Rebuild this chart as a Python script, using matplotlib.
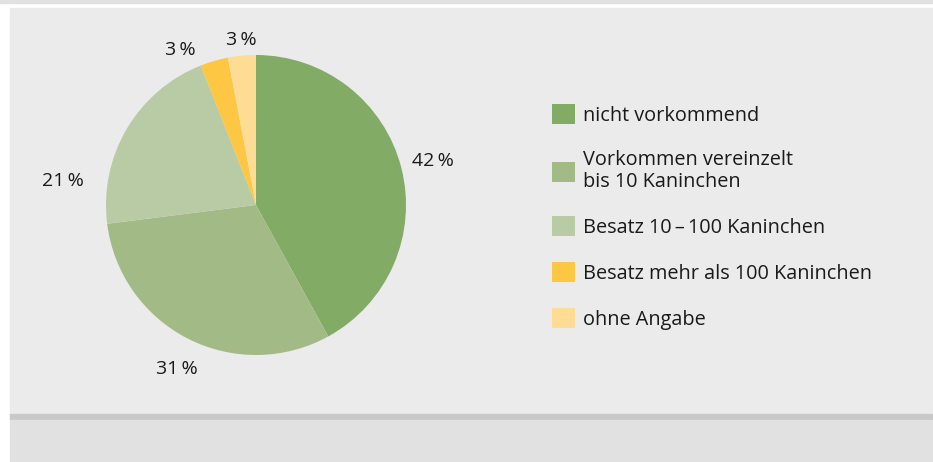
import numpy as np
import matplotlib
matplotlib.use('Agg')
import matplotlib.pyplot as plt
from matplotlib.patches import Rectangle, Patch

plt.rcParams['font.family'] = ['Open Sans', 'DejaVu Sans']

categories = ['nicht vorkommend', 'Vorkommen vereinzelt\nbis 10 Kaninchen',
              'Besatz 10\u2009\u2013\u2009100 Kaninchen', 'Besatz mehr als 100 Kaninchen',
              'ohne Angabe']
shares = [42, 31, 21, 3, 3]
colors = ['#82ab66', '#a2bb86', '#b8cba4', '#fdc743', '#fedc94']

W, H = 933, 462
fig = plt.figure(figsize=(W / 100, H / 100), dpi=100, facecolor='white')

# background panels (pixel boxes -> figure fraction)
def box(x0, y0, x1, y1, c):
    fig.patches.append(Rectangle((x0 / W, 1 - y1 / H), (x1 - x0) / W, (y1 - y0) / H,
                                 transform=fig.transFigure, color=c, zorder=-5))

box(0, 0, W, 3, '#e1e1e1')
box(10, 8, 932, 414, '#ebebeb')
box(10, 414, 932, 420, '#c8c8c8')
box(10, 420, 932, H, '#e1e1e1')

ax = fig.add_axes([106 / W, 1 - 355 / H, 300 / W, 300 / H])
ax.set_facecolor('none')
wedges, _ = ax.pie(shares, colors=colors, startangle=90, counterclock=False,
                   radius=1.0, wedgeprops=dict(linewidth=0))
ax.set_xlim(-1, 1)
ax.set_ylim(-1, 1)
ax.set_aspect('auto')

# label distance (in radii) and angle nudge per slice
dist = [1.22, 1.20, 1.30, 1.16, 1.12]
nudge = [0, 1, 23, 9.5, -0.5]
for w, s, d, n in zip(wedges, shares, dist, nudge):
    a = np.deg2rad((w.theta1 + w.theta2) / 2 + n)
    ax.text(d * np.cos(a), d * np.sin(a), f'{s}\u2009%', ha='center', va='center_baseline',
            fontsize=14, color='#1a1a1a', clip_on=False)

handles = [Patch(facecolor=c, edgecolor='none') for c in colors]
leg = fig.legend(handles, categories, loc='upper left', bbox_to_anchor=(552 / W, 1 - 104 / H),
                 frameon=False, fontsize=14.3, labelcolor='#1a1a1a', borderpad=0,
                 borderaxespad=0, handlelength=1.15, handleheight=1.15,
                 handletextpad=0.4, labelspacing=1.22)
for t in leg.get_texts():
    t.set_linespacing(1.15)

fig.savefig('out.png', dpi=100, facecolor='white')
